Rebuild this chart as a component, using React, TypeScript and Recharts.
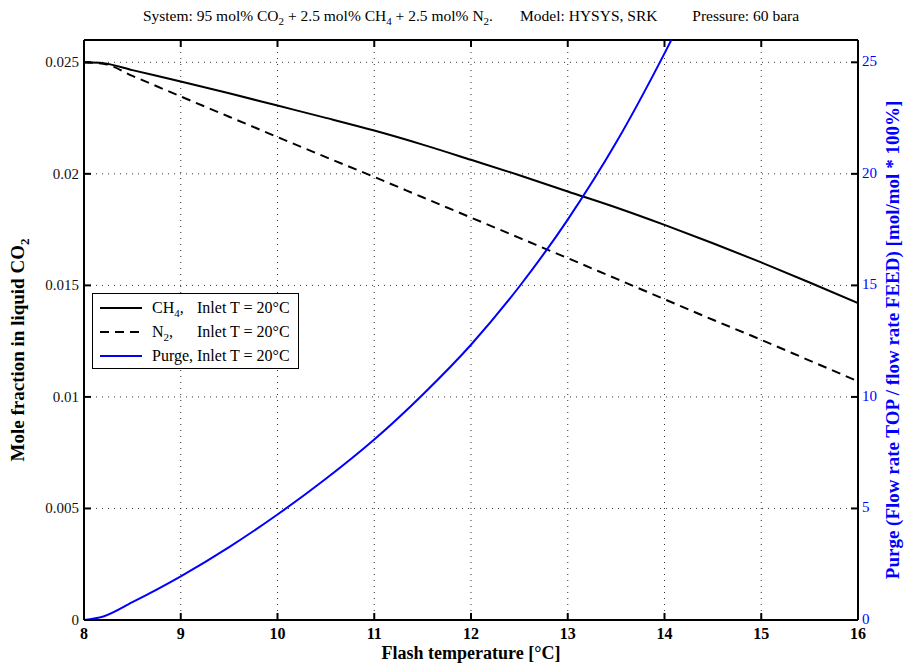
import React from "react";
import { LineChart, Line, XAxis, YAxis, CartesianGrid, ReferenceLine, Legend, Label } from "recharts";

// flash temperature [°C]
const tempC = [8, 8.2, 8.5, 9, 9.5, 10, 10.5, 11, 11.5, 12, 12.5, 13, 13.5, 14, 14.5, 15, 15.5, 16];
// mole fraction in liquid CO2
const ch4Frac = [0.025, 0.02496, 0.02465, 0.02414, 0.02361, 0.02306, 0.02251, 0.02194, 0.02131, 0.02063, 0.01994, 0.01921, 0.01849, 0.01771, 0.01689, 0.01603, 0.01513, 0.01421];
const n2Frac = [0.025, 0.02494, 0.02439, 0.02347, 0.02256, 0.02165, 0.02075, 0.01986, 0.01895, 0.01804, 0.01713, 0.01622, 0.0153, 0.01438, 0.01346, 0.01256, 0.01163, 0.0107];
// purge, flow rate TOP / flow rate FEED [%]
const purgeTempC = [8, 8.2, 8.5, 9, 9.5, 10, 10.5, 11, 11.5, 12, 12.5, 13, 13.5, 14, 14.1];
const purgePct = [0, 0.16, 0.8, 1.96, 3.27, 4.73, 6.33, 8.09, 10.1, 12.34, 14.95, 17.95, 21.4, 25.4, 26.25];

const xTicks = [8, 9, 10, 11, 12, 13, 14, 15, 16];
const leftTicks = [0, 0.005, 0.01, 0.015, 0.02, 0.025];
const rightTicks = [0, 5, 10, 15, 20, 25];

const fracData = tempC.map((t, i) => ({ t, ch4: ch4Frac[i], n2: n2Frac[i] }));
const purgeData = purgeTempC.map((t, i) => ({ t, purge: purgePct[i] }));

const FONT = '"Liberation Serif", "Times New Roman", serif';
const BLUE = "#0000ff";
const PLOT_TOP = 40;

const XTick = (props: any) => {
  const { x, y, payload } = props;
  return (
    <g>
      <line x1={x} x2={x} y1={y} y2={y - 7} stroke="#000" strokeWidth={2} />
      <line x1={x} x2={x} y1={PLOT_TOP} y2={PLOT_TOP + 7} stroke="#000" strokeWidth={2} />
      <text x={x} y={y + 19} textAnchor="middle" fontFamily={FONT} fontSize={16} fontWeight="bold" fill="#000">
        {payload.value}
      </text>
    </g>
  );
};

const LeftTick = (props: any) => {
  const { x, y, payload } = props;
  return (
    <g>
      <line x1={x} x2={x + 7} y1={y} y2={y} stroke="#000" strokeWidth={2} />
      <text x={x - 5} y={y + 5} textAnchor="end" fontFamily={FONT} fontSize={15} fill="#111">
        {String(payload.value)}
      </text>
    </g>
  );
};

const RightTick = (props: any) => {
  const { x, y, payload } = props;
  return (
    <g>
      <line x1={x - 7} x2={x} y1={y} y2={y} stroke="#000" strokeWidth={2} />
      <text x={x + 4} y={y + 4} textAnchor="start" fontFamily={FONT} fontSize={15} fill={BLUE}>
        {payload.value}
      </text>
    </g>
  );
};

const LeftLabel = (props: any) => {
  const vb = props.viewBox;
  const cx = vb.x + 24;
  const cy = vb.y + vb.height / 2 + 20;
  return (
    <text x={cx} y={cy} transform={`rotate(-90 ${cx} ${cy})`} textAnchor="middle" fontFamily={FONT} fontSize={19} fontWeight="bold" fill="#000">
      Mole fraction in liquid CO<tspan dy={5} fontSize={13}>2</tspan>
    </text>
  );
};

const RightLabel = (props: any) => {
  const vb = props.viewBox;
  const cx = vb.x + 41;
  const cy = vb.y + vb.height / 2 + 10;
  return (
    <text x={cx} y={cy} transform={`rotate(-90 ${cx} ${cy})`} textAnchor="middle" fontFamily={FONT} fontSize={19} fontWeight="bold" fill={BLUE}>
      Purge (Flow rate TOP / flow rate FEED) [mol/mol * 100%]
    </text>
  );
};

const XLabel = (props: any) => {
  const vb = props.viewBox;
  return (
    <text x={vb.x + vb.width / 2} y={vb.y + 39} textAnchor="middle" fontFamily={FONT} fontSize={18} fontWeight="bold" fill="#000">
      Flash temperature [°C]
    </text>
  );
};

const sub = { fontSize: 11, verticalAlign: "-4px", lineHeight: 0 } as const;

const LegendBox = () => {
  const row = (top: number) => ({ position: "absolute" as const, top: top - 10, height: 20, left: 0, right: 0 });
  const sample = (dash?: string, color = "#000") => (
    <svg width={42} height={20} style={{ position: "absolute", left: 7, top: 0 }}>
      <line x1={0} x2={42} y1={10} y2={10} stroke={color} strokeWidth={2} strokeDasharray={dash} />
    </svg>
  );
  const txt = { position: "absolute" as const, top: 0, lineHeight: "20px", whiteSpace: "nowrap" as const };
  return (
    <div
      style={{
        position: "relative",
        width: 207,
        height: 76,
        border: "1.5px solid #000",
        boxSizing: "border-box",
        background: "#fff",
        fontFamily: FONT,
        fontSize: 16,
        color: "#000",
      }}
    >
      <div style={row(13.5)}>
        {sample()}
        <span style={{ ...txt, left: 59 }}>
          CH<sub style={sub}>4</sub>,
        </span>
        <span style={{ ...txt, left: 104 }}>Inlet T = 20°C</span>
      </div>
      <div style={row(37.5)}>
        {sample("9 6")}
        <span style={{ ...txt, left: 59 }}>
          N<sub style={sub}>2</sub>,
        </span>
        <span style={{ ...txt, left: 104 }}>Inlet T = 20°C</span>
      </div>
      <div style={row(62)}>
        {sample(undefined, BLUE)}
        <span style={{ ...txt, left: 59 }}>Purge, Inlet T = 20°C</span>
      </div>
    </div>
  );
};

export default function App() {
  return (
    <div style={{ position: "absolute", left: 0, top: 0, width: 905, height: 664, background: "#fff" }}>
      <div
        style={{
          position: "absolute",
          left: 84,
          width: 774,
          top: 7,
          textAlign: "center",
          fontFamily: FONT,
          fontSize: 15.5,
          whiteSpace: "pre",
          color: "#000",
          zIndex: 2,
        }}
      >
        System: 95 mol% CO<sub style={sub}>2</sub> + 2.5 mol% CH<sub style={sub}>4</sub> + 2.5 mol% N<sub style={sub}>2</sub>.       Model: HYSYS, SRK         Pressure: 60 bara
      </div>
      <LineChart width={905} height={664} margin={{ top: PLOT_TOP, right: 0, bottom: 0, left: 0 }}>
        <CartesianGrid yAxisId="left" stroke="#333" strokeDasharray="1 5" strokeWidth={1} />
        <XAxis
          dataKey="t"
          type="number"
          domain={[8, 16]}
          ticks={xTicks}
          allowDataOverflow
          height={44}
          tickSize={0}
          tickMargin={0}
          tickLine={false}
          axisLine={{ stroke: "#000", strokeWidth: 2 }}
          tick={<XTick />}
          interval={0}
        >
          <Label content={<XLabel />} />
        </XAxis>
        <YAxis
          yAxisId="left"
          orientation="left"
          type="number"
          domain={[0, 0.026]}
          ticks={leftTicks}
          allowDataOverflow
          width={84}
          tickSize={0}
          tickMargin={0}
          tickLine={false}
          axisLine={{ stroke: "#000", strokeWidth: 2 }}
          tick={<LeftTick />}
          interval={0}
        >
          <Label content={<LeftLabel />} />
        </YAxis>
        <YAxis
          yAxisId="right"
          orientation="right"
          type="number"
          domain={[0, 26]}
          ticks={rightTicks}
          allowDataOverflow
          width={47}
          tickSize={0}
          tickMargin={0}
          tickLine={false}
          axisLine={{ stroke: "#000", strokeWidth: 2 }}
          tick={<RightTick />}
          interval={0}
        >
          <Label content={<RightLabel />} />
        </YAxis>
        <ReferenceLine yAxisId="left" y={0.026} stroke="#000" strokeWidth={2} />
        <Line
          yAxisId="left"
          data={fracData}
          dataKey="ch4"
          type="monotone"
          stroke="#000"
          strokeWidth={2}
          dot={false}
          activeDot={false}
          isAnimationActive={false}
        />
        <Line
          yAxisId="left"
          data={fracData}
          dataKey="n2"
          type="monotone"
          stroke="#000"
          strokeWidth={2}
          strokeDasharray="9 6"
          dot={false}
          activeDot={false}
          isAnimationActive={false}
        />
        <Line
          yAxisId="right"
          data={purgeData}
          dataKey="purge"
          type="monotone"
          stroke={BLUE}
          strokeWidth={2}
          dot={false}
          activeDot={false}
          isAnimationActive={false}
        />
        <Legend
          layout="horizontal"
          verticalAlign="middle"
          align="center"
          content={<LegendBox />}
          wrapperStyle={{ left: 92, top: 293, width: 207, height: 76 }}
        />
      </LineChart>
    </div>
  );
}
